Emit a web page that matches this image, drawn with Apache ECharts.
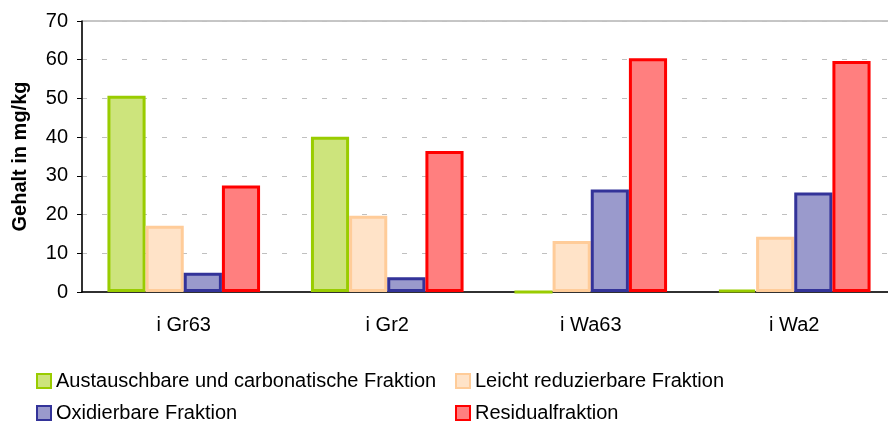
<!DOCTYPE html>
<html>
<head>
<meta charset="utf-8">
<script src="https://cdn.jsdelivr.net/npm/echarts@6/dist/echarts.min.js"></script>
<style>
  html, body { margin: 0; padding: 0; background: #fff; }
  #chart { width: 888px; height: 423px; }
</style>
</head>
<body>
<div id="chart"></div>
<script>
// Probenahmestellen
var categories = ["i Gr63", "i Gr2", "i Wa63", "i Wa2"];
// Gehalt in mg/kg je Fraktion
var austauschbar = [50.7, 40.1, 0, 0.5];
var leichtReduzierbar = [17.1, 19.7, 13.2, 14.3];
var oxidierbar = [5.0, 3.8, 26.5, 25.7];
var residual = [27.5, 36.4, 60.4, 59.7];
var yTicks = [0, 10, 20, 30, 40, 50, 60, 70];

var seriesNames = [
  "Austauschbare und carbonatische Fraktion",
  "Leicht reduzierbare Fraktion",
  "Oxidierbare Fraktion",
  "Residualfraktion"
];

var fontName = "Liberation Sans";

function barSeries(name, data, fill, border) {
  return {
    name: name,
    type: "bar",
    data: data,
    barGap: "0%",
    barCategoryGap: "25%",
    itemStyle: {
      color: fill,
      borderColor: border,
      borderWidth: 3
    }
  };
}

// one legend per entry, laid out in two columns like the original
function legendItem(name, left, top) {
  return {
    left: left,
    top: top,
    icon: "rect",
    itemWidth: 14,
    itemHeight: 14,
    textStyle: { fontFamily: fontName, fontSize: 20, color: "#000" },
    data: [name]
  };
}

var chart = echarts.init(document.getElementById("chart"));
chart.setOption({
  animation: false,
  textStyle: { fontFamily: fontName },
  // plot area runs a little past the right edge of the picture
  grid: {
    left: 82,
    width: 814,
    top: 21,
    bottom: 131,
    outerBoundsMode: "none",
    show: true,
    borderColor: "#8c8c8c",
    borderWidth: 1
  },
  legend: [
    legendItem(seriesNames[0], 31, 366),
    legendItem(seriesNames[1], 450, 366),
    legendItem(seriesNames[2], 31, 398),
    legendItem(seriesNames[3], 450, 398)
  ],
  xAxis: {
    type: "category",
    data: categories,
    axisLine: { lineStyle: { color: "#000", width: 1.5 } },
    axisTick: { length: 6, lineStyle: { color: "#000" } },
    axisLabel: { color: "#000", fontSize: 20, margin: 23, fontFamily: fontName }
  },
  yAxis: {
    type: "value",
    min: yTicks[0],
    max: yTicks[yTicks.length - 1],
    interval: 10,
    name: "Gehalt in mg/kg",
    nameLocation: "middle",
    nameRotate: 90,
    nameGap: 52,
    nameTextStyle: { color: "#000", fontSize: 20, fontWeight: "bold", fontFamily: fontName },
    axisLine: { show: true, lineStyle: { color: "#000", width: 1.5 } },
    axisTick: { show: true, length: 5, lineStyle: { color: "#000" } },
    axisLabel: { color: "#000", fontSize: 20, margin: 14, fontFamily: fontName },
    splitLine: {
      lineStyle: { color: "#c0c0c0", type: [5, 15], width: 1 }
    }
  },
  series: [
    barSeries(seriesNames[0], austauschbar, "#cde47c", "#99cc00"),
    barSeries(seriesNames[1], leichtReduzierbar, "#ffe3c8", "#ffcc99"),
    barSeries(seriesNames[2], oxidierbar, "#9a9acc", "#333399"),
    barSeries(seriesNames[3], residual, "#ff7f7f", "#ff0000")
  ]
});
</script>
</body>
</html>
